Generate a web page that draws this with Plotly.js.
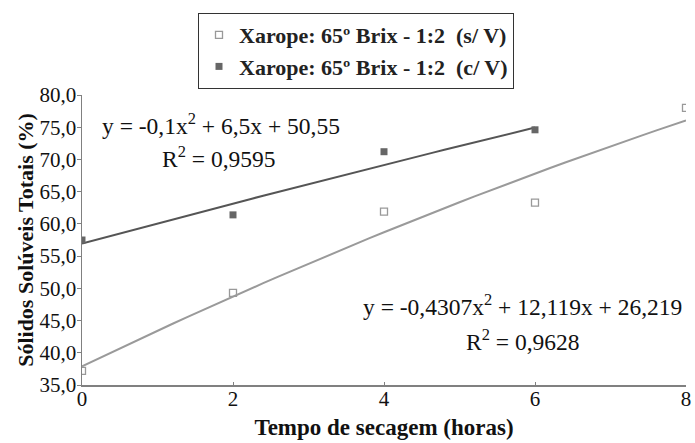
<!DOCTYPE html>
<html>
<head>
<meta charset="utf-8">
<script src="https://cdn.plot.ly/plotly-3.0.1.min.js"></script>
<style>html,body{margin:0;padding:0;background:#fff;}#chart{width:695px;height:443px;}</style>
</head>
<body>
<div id="chart"></div>
<script>
// Data
const tempo = [0, 2, 4, 6, 8];
const semV = [37.2, 49.3, 61.9, 63.3, 78.0];
const tempoC = [0, 2, 4, 6];
const comV = [57.5, 61.4, 71.2, 74.6];
// Trendline coefficients printed on the chart (x = point index, 1-based)
const coefSem = [-0.4307, 12.119, 26.219];
const coefCom = [-0.1, 6.5, 50.55];
const nameSem = 'Xarope: 65º Brix - 1:2  (s/ V)';
const nameCom = 'Xarope: 65º Brix - 1:2  (c/ V)';
const eqCom = ['y = -0,1x<sup>2</sup> + 6,5x + 50,55', 'R<sup>2</sup> = 0,9595'];
const eqSem = ['y = -0,4307x<sup>2</sup> + 12,119x + 26,219', 'R<sup>2</sup> = 0,9628'];

function trend(coef, tMax) {
  const xs = [], ys = [];
  for (let i = 0; i <= 40; i++) {
    const t = tMax * i / 40;
    const k = t / 2 + 1;
    xs.push(t);
    ys.push(coef[0] * k * k + coef[1] * k + coef[2]);
  }
  return {xs, ys};
}
const tS = trend(coefSem, tempo[tempo.length - 1]);
const tC = trend(coefCom, tempoC[tempoC.length - 1]);

const serif = '"Liberation Serif", "Times New Roman", serif';
const traces = [
  {x: tS.xs, y: tS.ys, mode: 'lines', line: {color: '#9a9a9a', width: 2}, showlegend: false, hoverinfo: 'skip'},
  {x: tC.xs, y: tC.ys, mode: 'lines', line: {color: '#555555', width: 2}, showlegend: false, hoverinfo: 'skip'},
  {x: tempo, y: semV, mode: 'markers', name: nameSem,
   marker: {symbol: 'square-open', size: 7, color: '#999999', line: {width: 1.3, color: '#999999'}}},
  {x: tempoC, y: comV, mode: 'markers', name: nameCom,
   marker: {symbol: 'square', size: 7, color: '#666666'}}
];

const L = 82, R = 9, T = 95, B = 58, W = 695, H = 443;
const pw = W - L - R, ph = H - T - B;
function px(x) { return (x - L) / pw; }
function py(y) { return 1 - (y - T) / ph; }
function ann(text, x, y) {
  return {x: px(x), y: py(y), xref: 'paper', yref: 'paper', xanchor: 'center', yanchor: 'middle',
          text: text, showarrow: false, font: {family: serif, size: 23.5, color: '#111'}};
}

const layout = {
  width: W, height: H,
  margin: {l: L, r: R, t: T, b: B},
  paper_bgcolor: '#fff', plot_bgcolor: '#fff',
  separators: ',.',
  font: {family: serif, color: '#111', size: 18},
  showlegend: true,
  legend: {
    x: px(198), xref: 'paper', xanchor: 'left', y: py(13), yanchor: 'top',
    bordercolor: '#333', borderwidth: 1, bgcolor: '#fff',
    font: {family: serif, size: 22, weight: 'bold', color: '#222'},
    tracegroupgap: 0, itemwidth: 30
  },
  xaxis: {
    range: [0, 8], dtick: 2, tick0: 0, showgrid: false, zeroline: false,
    showline: true, linecolor: '#808080', linewidth: 1.5,
    ticks: 'inside', ticklen: 3, tickcolor: '#808080', ticklabelstandoff: -6,
    tickfont: {family: serif, size: 21, color: '#111'},
    title: {text: 'Tempo de secagem (horas)', font: {family: serif, size: 23, weight: 'bold', color: '#111'}, standoff: 9}
  },
  yaxis: {
    range: [35, 80], dtick: 5, tick0: 35, tickformat: '.1f', showgrid: false, zeroline: false,
    showline: true, linecolor: '#808080', linewidth: 1.5,
    ticks: 'outside', ticklen: 4, tickcolor: '#808080', ticklabelstandoff: -4,
    tickfont: {family: serif, size: 21, color: '#111'},
    title: {text: 'Sólidos Solúveis Totais (%)', font: {family: serif, size: 22, weight: 'bold', color: '#111'}, standoff: 0}
  },
  annotations: [
    ann(eqCom[0], 221, 124),
    ann(eqCom[1], 219, 157),
    ann(eqSem[0], 522, 305),
    ann(eqSem[1], 523, 340)
  ]
};

Plotly.newPlot('chart', traces, layout, {displayModeBar: false, staticPlot: true});
</script>
</body>
</html>
